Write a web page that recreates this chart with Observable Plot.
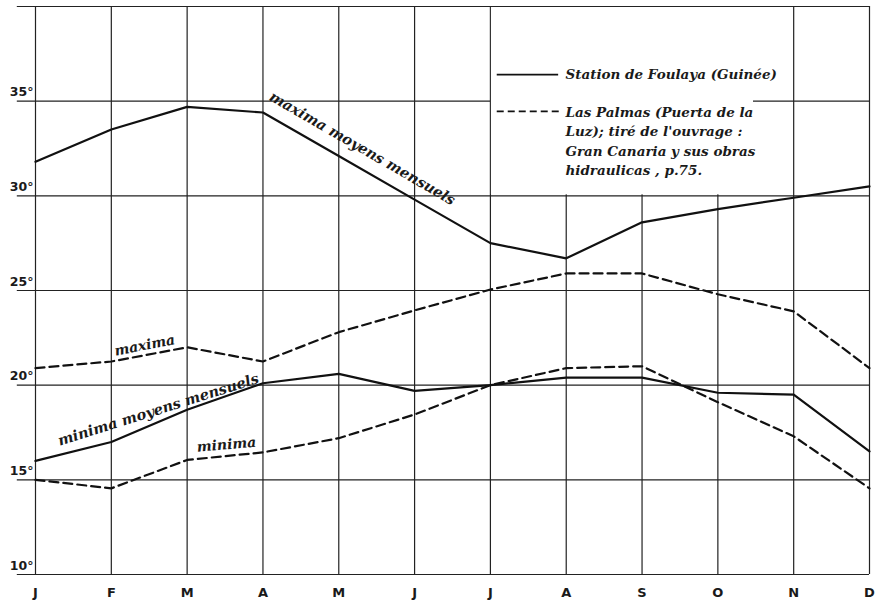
<!DOCTYPE html>
<html>
<head>
<meta charset="utf-8">
<script src="https://cdn.jsdelivr.net/npm/d3@7"></script>
<script src="https://cdn.jsdelivr.net/npm/@observablehq/plot@0.6"></script>
<style>
  html, body { margin: 0; padding: 0; background: #fff; }
</style>
</head>
<body>
<div id="chart"></div>
<script>
// Month labels (French initials)
const months = ["J", "F", "M", "A", "M", "J", "J", "A", "S", "O", "N", "D"];
const yTicks = [10, 15, 20, 25, 30, 35];
const yGrid = [10, 15, 20, 25, 30, 35, 40];

// Station de Foulaya (Guinée) — solid lines
const foulayaMax = [31.8, 33.5, 34.7, 34.4, 32.1, 29.8, 27.5, 26.7, 28.6, 29.3, 29.9, 30.5];
const foulayaMin = [16.0, 17.0, 18.7, 20.1, 20.6, 19.7, 20.0, 20.4, 20.4, 19.6, 19.5, 16.5];

// Las Palmas (Puerta de la Luz) — dashed lines
const palmasMax = [20.9, 21.25, 22.0, 21.25, 22.8, 23.95, 25.05, 25.9, 25.9, 24.8, 23.9, 20.9];
const palmasMin = [15.0, 14.55, 16.05, 16.45, 17.2, 18.45, 20.0, 20.9, 21.0, 19.1, 17.3, 14.55];

const legendSolid = "Station de Foulaya (Guinée)";
const legendDashed = "Las Palmas (Puerta de la\nLuz); tiré de l'ouvrage :\nGran Canaria y sus obras\nhidraulicas , p.75.";

const curveLabels = [
  {text: "maxima moyens mensuels", x: 4.31, y: 32.5, rotate: 30, size: 14.5},
  {text: "minima moyens mensuels", x: 1.62, y: 18.7, rotate: -17.5, size: 14.5},
  {text: "maxima", x: 1.44, y: 22.1, rotate: -11, size: 14},
  {text: "minima", x: 2.52, y: 16.85, rotate: -5, size: 14}
];

const idx = d3.range(months.length);
const toSeries = (arr) => arr.map((v, i) => ({x: i, y: v}));

const serif = "'DejaVu Serif', serif";
const sans = "'DejaVu Sans', sans-serif";

const chart = Plot.plot({
  width: 879,
  height: 600,
  marginLeft: 35,
  marginRight: 10,
  marginTop: 6,
  marginBottom: 26,
  x: {type: "linear", domain: [0, 11], axis: null},
  y: {type: "linear", domain: [10, 40], axis: null},
  style: {background: "#fff"},
  marks: [
    // vertical grid lines at each month
    Plot.ruleX(idx, {x: d => d, y1: 10, y2: 40, stroke: "#222", strokeWidth: 1.2}),
    // horizontal grid lines, extending slightly left as ticks
    Plot.ruleY(yGrid, {y: d => d, x1: -0.24, x2: 11, stroke: "#222", strokeWidth: 1.2}),
    // white legend panel
    Plot.rect([0], {x1: 6, x2: 9.47, y1: 30, y2: 40, fill: "white", insetLeft: 1, insetTop: 1, insetBottom: 1}),
    // y tick labels
    Plot.text(yTicks, {x: 0, y: d => d, text: d => d + "°", textAnchor: "end", dx: -2, dy: -9,
      fontSize: 12.5, fontWeight: "bold", fontFamily: sans, fill: "#1a1a1a"}),
    // x tick labels
    Plot.text(idx, {x: d => d, y: 10, text: d => months[d], dy: 18,
      fontSize: 13, fontWeight: "bold", fontFamily: sans, fill: "#1a1a1a"}),
    // data lines
    Plot.line(toSeries(foulayaMax), {x: "x", y: "y", stroke: "#111", strokeWidth: 2.2}),
    Plot.line(toSeries(foulayaMin), {x: "x", y: "y", stroke: "#111", strokeWidth: 2.2}),
    Plot.line(toSeries(palmasMax), {x: "x", y: "y", stroke: "#111", strokeWidth: 2.2, strokeDasharray: "9,5"}),
    Plot.line(toSeries(palmasMin), {x: "x", y: "y", stroke: "#111", strokeWidth: 2.2, strokeDasharray: "9,5"}),
    // curve labels
    Plot.text(curveLabels, {x: "x", y: "y", text: "text", rotate: "rotate", fontSize: d => d.size,
      fontStyle: "italic", fontWeight: "bold", fontFamily: serif, fill: "#1a1a1a"}),
    // legend
    Plot.ruleY([36.4], {x1: 6.09, x2: 6.9, stroke: "#111", strokeWidth: 1.8}),
    Plot.ruleY([34.46], {x1: 6.09, x2: 6.92, stroke: "#111", strokeWidth: 1.8, strokeDasharray: "7,4"}),
    Plot.text([legendSolid], {x: 6.99, y: 36.4, text: d => d, textAnchor: "start",
      fontSize: 13.5, fontStyle: "italic", fontWeight: "bold", fontFamily: serif, fill: "#1a1a1a"}),
    Plot.text([legendDashed], {x: 6.99, y: 34.92, text: d => d, textAnchor: "start", lineAnchor: "top",
      lineHeight: 1.45, fontSize: 13.5, fontStyle: "italic", fontWeight: "bold", fontFamily: serif, fill: "#1a1a1a"})
  ]
});
document.getElementById("chart").append(chart);
</script>
</body>
</html>
